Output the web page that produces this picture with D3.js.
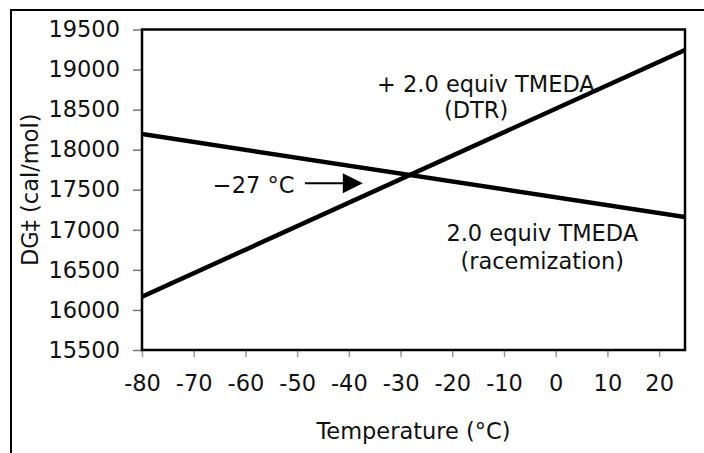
<!DOCTYPE html>
<html>
<head>
<meta charset="utf-8">
<script src="https://cdn.jsdelivr.net/npm/d3@7"></script>
<style>
  body { margin: 0; background: #fff; }
  svg { display: block; font-family: Verdana, "DejaVu Sans", sans-serif; }
</style>
</head>
<body>
<div id="chart"></div>
<script>
// temperature endpoints (°C) and the fitted DG‡ values (cal/mol)
const temps = [-80, 25];
const dtrValues = [16165, 19245];
const racemValues = [18195, 17160];

const xTicks = [-80, -70, -60, -50, -40, -30, -20, -10, 0, 10, 20];
const yTicks = [15500, 16000, 16500, 17000, 17500, 18000, 18500, 19000, 19500];

// annotation anchors, in data coordinates
const labels = [
  { text: "+ 2.0 equiv TMEDA", t: -13.5, g: 18720 },
  { text: "(DTR)", t: -15.4, g: 18393 },
  { text: "2.0 equiv TMEDA", t: -2.6, g: 16859 },
  { text: "(racemization)", t: -2.6, g: 16510 },
];
const crossLabel = { text: "\u221227 \u00B0C", t: -66.3, g: 17458 };
const arrow = { t0: -48.5, t1: -37.3, g: 17582 };

const fontSize = 22.5;

const config = {
  width: 704,
  height: 453,
  margin: { top: 29.5, right: 19, bottom: 103, left: 142 },
};

const innerW = config.width - config.margin.left - config.margin.right;
const innerH = config.height - config.margin.top - config.margin.bottom;

const svg = d3
  .select("#chart")
  .append("svg")
  .attr("width", config.width)
  .attr("height", config.height);

// outer frame (runs past right and bottom edges, as in the picture)
svg
  .append("rect")
  .attr("x", 11)
  .attr("y", 10)
  .attr("width", 720)
  .attr("height", 470)
  .attr("fill", "none")
  .attr("stroke", "#000")
  .attr("stroke-width", 2);

const chart = svg
  .append("g")
  .attr("transform", `translate(${config.margin.left},${config.margin.top})`);

const x = d3.scaleLinear().domain([-80, 25]).range([0, innerW]);
const y = d3.scaleLinear().domain([15500, 19500]).range([innerH, 0]);

// axes
const xAxis = chart
  .append("g")
  .attr("transform", `translate(0,${innerH})`)
  .call(
    d3.axisBottom(x).tickValues(xTicks).tickSize(7).tickPadding(18).tickFormat(d3.format("d"))
  );
xAxis.select(".domain").remove();
xAxis.selectAll(".tick line").attr("stroke", "#999").attr("stroke-width", 1.5);
xAxis
  .selectAll(".tick text")
  .attr("font-size", fontSize)
  .attr("font-family", 'Verdana, "DejaVu Sans", sans-serif')
  .attr("fill", "#111")
  .text((d) => String(d));

const yAxis = chart
  .append("g")
  .call(d3.axisLeft(y).tickValues(yTicks).tickSize(9).tickPadding(13).tickFormat(d3.format("d")));
yAxis.select(".domain").remove();
yAxis.selectAll(".tick line").attr("stroke", "#777").attr("stroke-width", 1.5);
yAxis
  .selectAll(".tick text")
  .attr("font-size", fontSize)
  .attr("font-family", 'Verdana, "DejaVu Sans", sans-serif')
  .attr("fill", "#111");

// clip for the data lines
chart
  .append("defs")
  .append("clipPath")
  .attr("id", "plot-clip")
  .append("rect")
  .attr("width", innerW)
  .attr("height", innerH);

const line = d3
  .line()
  .x((d) => x(d[0]))
  .y((d) => y(d[1]));

const series = [
  d3.zip(temps, dtrValues),
  d3.zip(temps, racemValues),
];

chart
  .append("g")
  .attr("clip-path", "url(#plot-clip)")
  .selectAll("path")
  .data(series)
  .join("path")
  .attr("d", line)
  .attr("fill", "none")
  .attr("stroke", "#000")
  .attr("stroke-width", 4.5);

// plot frame
chart
  .append("rect")
  .attr("width", innerW)
  .attr("height", innerH)
  .attr("fill", "none")
  .attr("stroke", "#000")
  .attr("stroke-width", 2.5);

// line labels
chart
  .selectAll(".series-label")
  .data(labels)
  .join("text")
  .attr("class", "series-label")
  .attr("x", (d) => x(d.t))
  .attr("y", (d) => y(d.g))
  .attr("text-anchor", "middle")
  .attr("font-size", fontSize)
  .attr("fill", "#111")
  .text((d) => d.text);

// crossing point note with arrow
chart
  .append("text")
  .attr("x", x(crossLabel.t))
  .attr("y", y(crossLabel.g))
  .attr("font-size", fontSize)
  .attr("fill", "#111")
  .text(crossLabel.text);

const ax0 = x(arrow.t0);
const ax1 = x(arrow.t1);
const ay = y(arrow.g);
chart
  .append("line")
  .attr("x1", ax0)
  .attr("x2", ax1 - 18)
  .attr("y1", ay)
  .attr("y2", ay)
  .attr("stroke", "#000")
  .attr("stroke-width", 2);
chart
  .append("path")
  .attr("d", `M${ax1},${ay} L${ax1 - 20},${ay - 10} L${ax1 - 20},${ay + 10} Z`)
  .attr("fill", "#000");

// axis titles
svg
  .append("text")
  .attr("x", config.margin.left + innerW / 2)
  .attr("y", 439)
  .attr("text-anchor", "middle")
  .attr("font-size", fontSize)
  .attr("fill", "#111")
  .text("Temperature (\u00B0C)");

svg
  .append("text")
  .attr("transform", `translate(38,${config.margin.top + innerH / 2}) rotate(-90)`)
  .attr("text-anchor", "middle")
  .attr("font-size", fontSize)
  .attr("fill", "#111")
  .text("DG\u2021 (cal/mol)");
</script>
</body>
</html>
